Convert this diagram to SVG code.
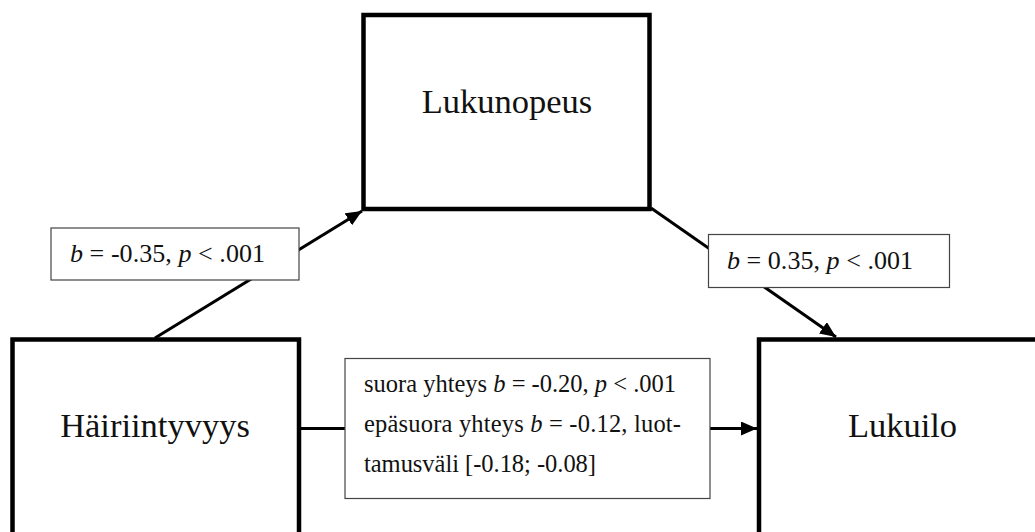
<svg xmlns="http://www.w3.org/2000/svg" width="1035" height="532" viewBox="0 0 1035 532">
  <defs>
    <style>
      .node { fill: #ffffff; stroke: #000000; stroke-width: 4.5; }
      .node-text { font-family: "Liberation Serif", "Times New Roman", serif; font-size: 34.5px; fill: #111111; text-anchor: middle; }
      .edge { stroke: #000000; stroke-width: 3; fill: none; }
      .label-box { fill: #ffffff; stroke: #444444; stroke-width: 1.2; }
      .label-text { font-family: "Liberation Serif", "Times New Roman", serif; fill: #111111; }
      .it { font-style: italic; }
    </style>
    <marker id="arrow" viewBox="0 0 16 14" refX="16" refY="7" markerWidth="16" markerHeight="14" markerUnits="userSpaceOnUse" orient="auto">
      <path d="M0,0 L16,7 L0,14 z" fill="#000000"/>
    </marker>
  </defs>

  <rect width="1035" height="532" fill="#ffffff"/>

  <!-- variables -->
  <g id="node-lukunopeus">
    <rect class="node" x="363.5" y="15" width="286" height="194"/>
    <text class="node-text" x="507" y="113">Lukunopeus</text>
  </g>
  <g id="node-hairiintyvyys">
    <rect class="node" x="12.5" y="339.5" width="286.5" height="260"/>
    <text class="node-text" x="155" y="437">Häiriintyvyys</text>
  </g>
  <g id="node-lukuilo">
    <rect class="node" x="759" y="339.5" width="287" height="260"/>
    <text class="node-text" x="902.5" y="437">Lukuilo</text>
  </g>

  <!-- paths between variables, with their coefficients -->
  <g id="connectors">
    <line class="edge" x1="155" y1="338" x2="362" y2="211" marker-end="url(#arrow)"/>
    <line class="edge" x1="651" y1="208" x2="836" y2="337" marker-end="url(#arrow)"/>
    <line class="edge" x1="301" y1="428.5" x2="757" y2="428.5" marker-end="url(#arrow)"/>

    <g id="label-a">
      <rect class="label-box" x="51" y="228" width="248" height="52"/>
      <text class="label-text" x="70" y="262" font-size="26" textLength="195" lengthAdjust="spacing"><tspan class="it">b</tspan> = -0.35, <tspan class="it">p</tspan> &lt; .001</text>
    </g>
    <g id="label-b">
      <rect class="label-box" x="708.5" y="234.5" width="241" height="53"/>
      <text class="label-text" x="727" y="269" font-size="26" textLength="186" lengthAdjust="spacing"><tspan class="it">b</tspan> = 0.35, <tspan class="it">p</tspan> &lt; .001</text>
    </g>
    <g id="label-c">
      <rect class="label-box" x="345" y="358.5" width="365" height="140"/>
      <text class="label-text" x="364" y="392" font-size="24.5" textLength="312" lengthAdjust="spacing">suora yhteys <tspan class="it">b</tspan> = -0.20, <tspan class="it">p</tspan> &lt; .001</text>
      <text class="label-text" x="364" y="432" font-size="24.5" textLength="317" lengthAdjust="spacing">epäsuora yhteys <tspan class="it">b</tspan> = -0.12, luot-</text>
      <text class="label-text" x="364" y="472" font-size="24.5" textLength="232" lengthAdjust="spacing">tamusväli [-0.18; -0.08]</text>
    </g>
  </g>
</svg>
